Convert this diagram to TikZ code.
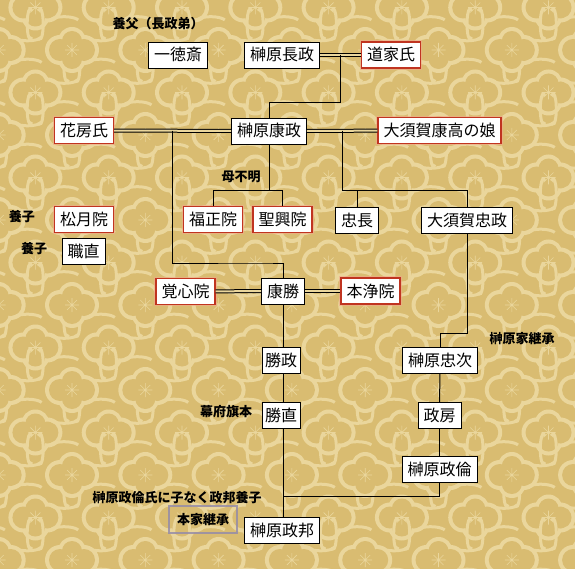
\documentclass[tikz,border=0pt]{standalone}
\usepackage{fontspec}
\setmainfont{Noto Sans CJK JP}
\usetikzlibrary{calc}
\definecolor{paper}{RGB}{234,214,156}
\definecolor{motif}{RGB}{217,188,113}
\definecolor{rust}{RGB}{192,52,32}
\definecolor{glow}{RGB}{242,168,138}
\definecolor{slate}{RGB}{150,140,168}
\tikzset{
  person/.style={draw=black,fill=white,line width=0.9pt,inner xsep=5.5pt,inner ysep=5pt,
    text height=14pt,text depth=2pt,font=\fontsize{16}{16}\selectfont},
  wife/.style={person,draw=rust,line width=1.2pt,preaction={draw=glow,line width=3.5pt,opacity=0.6}},
  note/.style={font=\fontsize{13}{13}\selectfont\bfseries,inner sep=1pt},
  kin/.style={draw=black,line width=1pt},
  marriage/.style={draw=black,line width=1pt,double=paper,double distance=2pt},
  % background motif
  pics/flower/.style={code={
    \fill[paper] (-12,0) circle (15) (12,0) circle (15) (0,-9) circle (14) (0,9) circle (14);
    \fill[motif] (-12,0) circle (11) (12,0) circle (11) (0,-9) circle (10) (0,9) circle (10);
    \draw[paper,line width=0.6pt] (-7,0) -- (7,0) (0,-7) -- (0,7) (-5,-5) -- (5,5) (-5,5) -- (5,-5);
    \draw[paper,line width=3pt] (33,-13) arc (60:300:3 and 15) (40,-13) arc (120:-120:3 and 15)
      (-22,-30) arc (200:340:15 and 5) (-22,30) arc (160:20:15 and 5);
  }},
}
\begin{document}
\begin{tikzpicture}[x=1pt,y=-1pt]
  \useasboundingbox (0,0) rectangle (575,569);
  \begin{scope}
    \clip (0,0) rectangle (575,569);
    \fill[motif] (0,0) rectangle (575,569);
    \foreach \r in {-1,...,7} \foreach \c in {-1,...,8} {
      \pic at ({-1.3+73.3*\c},{50+85*\r}) {flower};
      \pic at ({35.4+73.3*\c},{92.5+85*\r}) {flower};
    }
  \end{scope}

  \node[person] (isshin) at (178,55) {一徳斎};
  \node[person] (nagamasa) at (282,55) {榊原長政};
  \node[wife] (douke) at (391,55) {道家氏};
  \node[wife] (hanabusa) at (84,130.5) {花房氏};
  \node[person] (yasumasa) at (269,131) {榊原康政};
  \node[wife] (osuga) at (439.5,130.5) {大須賀康高の娘};
  \node[wife] (fukusho) at (213,219.5) {福正院};
  \node[wife] (seiko) at (282.5,219.5) {聖興院};
  \node[person] (tadanaga) at (357,220) {忠長};
  \node[person] (tadamasa) at (467,220) {大須賀忠政};
  \node[wife] (shogetsu) at (84,219.5) {松月院};
  \node[person] (motonao) at (83.5,251.5) {職直};
  \node[wife] (kakushin) at (185.5,291.5) {覚心院};
  \node[person] (yasukatsu) at (283,291) {康勝};
  \node[wife] (honjo) at (370.5,291) {本浄院};
  \node[person,inner xsep=3pt] (katsumasa) at (281,360) {勝政};
  \node[person,inner xsep=3pt] (katsunao) at (281,415) {勝直};
  \node[person] (tadatsugu) at (440,360.5) {榊原忠次};
  \node[person] (masafusa) at (439.5,415.5) {政房};
  \node[person] (masatomo) at (439.5,469) {榊原政倫};
  \node[person] (masakuni) at (282,530.5) {榊原政邦};

  \node[note] (adoptive) at (158,24) {養父（長政弟）};
  \node[note] (unknown) at (241,177) {母不明};
  \node[note] (adopt1) at (22,217) {養子};
  \node[note] (adopt2) at (34,249) {養子};
  \node[note] (heir) at (522,339) {榊原家継承};
  \node[note] (hatamoto) at (226,412) {幕府旗本};
  \node[note] (nochild) at (177,498) {榊原政倫氏に子なく政邦養子};
  \node[note,draw=slate,line width=2.5pt,draw opacity=0.85,minimum width=68pt,minimum height=27pt] (mainline) at (203,519.5) {本家継承};

  % marriages
  \draw[marriage] (nagamasa) -- (douke);
  \draw[marriage] (hanabusa) -- (yasumasa);
  \draw[marriage] (yasumasa) -- (osuga);
  \draw[marriage] (kakushin) -- (yasukatsu);
  \draw[marriage] (yasukatsu) -- (honjo);
  \coordinate (m1) at ($(nagamasa.east)!0.5!(douke.west)$);
  \coordinate (m2) at ($(hanabusa.east)!0.5!(yasumasa.west)$);
  \coordinate (m3) at ($(yasumasa.east)!0.5!(osuga.west)$);
  \coordinate (bar2) at (269,191);
  \coordinate (bar3) at (467,191);

  % descent
  \draw[kin] (m1) -- ++(0,48) -| (yasumasa.north);
  \draw[kin] (m2) |- (263,263) -| (yasukatsu.north);
  \draw[kin] (yasumasa.south) -- (bar2);
  \draw[kin] (fukusho.north) |- (seiko.north |- bar2) -- (seiko.north);
  \draw[kin] (m3) |- (bar3) -- (tadamasa.north);
  \draw[kin] (tadanaga.north) -- (tadanaga.north |- bar3);
  \draw[kin] (yasukatsu.south) -- (yasukatsu.south |- katsumasa.north);
  \draw[kin] (yasukatsu.south |- katsumasa.south) -- (yasukatsu.south |- katsunao.north);
  \draw[kin] (yasukatsu.south |- katsunao.south) -- (yasukatsu.south |- masakuni.north);
  \draw[kin] (tadamasa.south) -- ++(0,100) -| (tadatsugu.north);
  \draw[kin] (tadatsugu) -- (masafusa);
  \draw[kin] (masafusa) -- (masatomo);
  \draw[kin] (masatomo.south) |- (yasukatsu.south |- 0,496);
\end{tikzpicture}
\end{document}
